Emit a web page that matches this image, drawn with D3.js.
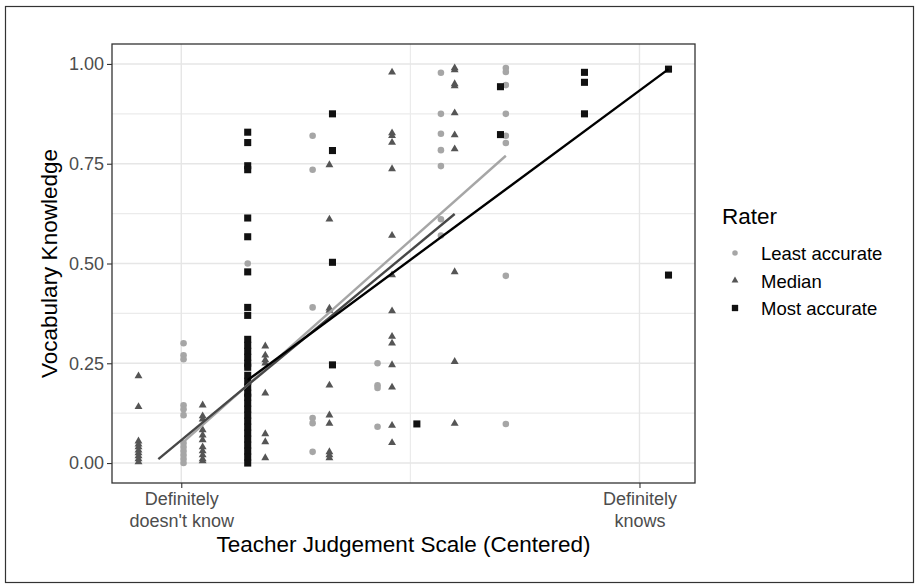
<!DOCTYPE html>
<html>
<head>
<meta charset="utf-8">
<script src="https://cdn.jsdelivr.net/npm/d3@7"></script>
<style>
  body { margin: 0; background: #fff; }
  text { font-family: "Liberation Sans", Arial, sans-serif; }
</style>
</head>
<body>
<div id="chart"></div>
<script>
// rater groups, drawn in this order
const raters = ["Least accurate", "Median", "Most accurate"];

// points: [teacher judgement (centered), vocabulary knowledge]
const leastPoints = [
  [-2.97, 0.30], [-2.97, 0.27], [-2.97, 0.26], [-2.97, 0.145], [-2.97, 0.135], [-2.97, 0.12],
  [-2.97, 0.05], [-2.97, 0.04], [-2.97, 0.03], [-2.97, 0.02], [-2.97, 0.01], [-2.97, 0.0],
  [-2.13, 0.50], [-2.13, 0.24],
  [-1.28, 0.82], [-1.28, 0.735], [-1.28, 0.39], [-1.28, 0.113], [-1.28, 0.10], [-1.28, 0.028],
  [-0.43, 0.25], [-0.43, 0.195], [-0.43, 0.188], [-0.43, 0.091],
  [0.40, 0.978], [0.40, 0.875], [0.40, 0.825], [0.40, 0.784], [0.40, 0.744], [0.40, 0.611], [0.40, 0.57],
  [1.25, 0.99], [1.25, 0.98], [1.25, 0.947], [1.25, 0.875], [1.25, 0.82], [1.25, 0.802], [1.25, 0.469], [1.25, 0.098]
];
const medianPoints = [
  [-3.56, 0.218], [-3.56, 0.141], [-3.56, 0.055], [-3.56, 0.047], [-3.56, 0.04], [-3.56, 0.032],
  [-3.56, 0.025], [-3.56, 0.018], [-3.56, 0.01], [-3.56, 0.003],
  [-2.72, 0.145], [-2.72, 0.118], [-2.72, 0.11], [-2.72, 0.083], [-2.72, 0.07], [-2.72, 0.058],
  [-2.72, 0.04], [-2.72, 0.03], [-2.72, 0.02], [-2.72, 0.01], [-2.72, 0.005],
  [-1.90, 0.293], [-1.90, 0.27], [-1.90, 0.258], [-1.90, 0.25], [-1.90, 0.175], [-1.90, 0.073],
  [-1.90, 0.053], [-1.90, 0.013],
  [-1.06, 0.747], [-1.06, 0.611], [-1.06, 0.388], [-1.06, 0.382], [-1.06, 0.195], [-1.06, 0.12],
  [-1.06, 0.099], [-1.06, 0.028], [-1.06, 0.02], [-1.06, 0.013],
  [-0.24, 0.979], [-0.24, 0.827], [-0.24, 0.82], [-0.24, 0.803], [-0.24, 0.737], [-0.24, 0.57],
  [-0.24, 0.471], [-0.24, 0.381], [-0.24, 0.317], [-0.24, 0.30], [-0.24, 0.246], [-0.24, 0.19],
  [-0.24, 0.094], [-0.24, 0.051],
  [0.58, 0.99], [0.58, 0.985], [0.58, 0.95], [0.58, 0.945], [0.58, 0.877], [0.58, 0.822],
  [0.58, 0.787], [0.58, 0.479], [0.58, 0.254], [0.58, 0.099]
];
const mostPoints = [
  [-2.13, 0.829], [-2.13, 0.803], [-2.13, 0.745], [-2.13, 0.735], [-2.13, 0.614], [-2.13, 0.567],
  [-2.13, 0.479], [-2.13, 0.39], [-2.13, 0.37], [-2.13, 0.31], [-2.13, 0.295], [-2.13, 0.28],
  [-2.13, 0.265], [-2.13, 0.25], [-2.13, 0.24], [-2.13, 0.22], [-2.13, 0.205], [-2.13, 0.19],
  [-2.13, 0.175], [-2.13, 0.165], [-2.13, 0.15], [-2.13, 0.135], [-2.13, 0.12], [-2.13, 0.105],
  [-2.13, 0.09], [-2.13, 0.075], [-2.13, 0.06], [-2.13, 0.045], [-2.13, 0.03], [-2.13, 0.015], [-2.13, 0.0],
  [-1.02, 0.875], [-1.02, 0.783], [-1.02, 0.503], [-1.02, 0.246],
  [0.085, 0.098],
  [1.18, 0.943], [1.18, 0.823],
  [2.28, 0.979], [2.28, 0.954], [2.28, 0.875],
  [3.38, 0.987], [3.38, 0.471]
];

// fitted lines per rater (start and end)
const leastLine = [[-2.97, 0.053], [1.25, 0.77]];
const medianLine = [[-3.30, 0.01], [0.58, 0.624]];
const mostLine = [[-2.13, 0.208], [3.38, 0.987]];

// axis ticks
const xTicks = [-3, 3];
const xTickLabels = [["Definitely", "doesn't know"], ["Definitely", "knows"]];
const xMinor = [0];
const yTicks = [0, 0.25, 0.5, 0.75, 1];
const yMinor = [0.125, 0.375, 0.625, 0.875];

const width = 919, height = 588;
const margin = {top: 44, right: 224, bottom: 105, left: 112};

const pointColor = d3.scaleOrdinal().domain(raters).range(["#a6a6a6", "#555555", "#111111"]);
const lineColor = d3.scaleOrdinal().domain(raters).range(["#a6a6a6", "#474747", "#000000"]);
const shape = d3.scaleOrdinal().domain(raters)
  .range([d3.symbol().type(d3.symbolCircle).size(34),
          d3.symbol().type(d3.symbolTriangle).size(27),
          d3.symbol().type(d3.symbolSquare).size(50)]);
const keyShape = d3.scaleOrdinal().domain(raters)
  .range([d3.symbol().type(d3.symbolCircle).size(24),
          d3.symbol().type(d3.symbolTriangle).size(20),
          d3.symbol().type(d3.symbolSquare).size(40)]);

const groups = [
  {rater: raters[0], points: leastPoints, line: leastLine},
  {rater: raters[1], points: medianPoints, line: medianLine},
  {rater: raters[2], points: mostPoints, line: mostLine}
];

// ggplot-like 5% expansion of the x range
const allX = groups.flatMap(g => g.points.map(p => p[0]));
const [xMin, xMax] = d3.extent(allX);
const xPad = (xMax - xMin) * 0.05;

const x = d3.scaleLinear()
  .domain([xMin - xPad, xMax + xPad])
  .range([margin.left, width - margin.right]);
const y = d3.scaleLinear()
  .domain([-0.05, 1.05])
  .range([height - margin.bottom, margin.top]);

const svg = d3.select("#chart").append("svg")
  .attr("width", width)
  .attr("height", height);

svg.append("rect")
  .attr("width", width).attr("height", height)
  .attr("fill", "#fff");

// outer frame of the figure
svg.append("rect")
  .attr("x", 5.5).attr("y", 6.5)
  .attr("width", 908).attr("height", 576)
  .attr("fill", "none")
  .attr("stroke", "#333")
  .attr("stroke-width", 1.2);

// grid
const grid = svg.append("g");
grid.selectAll(".ymin").data(yMinor).join("line")
  .attr("x1", margin.left).attr("x2", width - margin.right)
  .attr("y1", d => y(d)).attr("y2", d => y(d))
  .attr("stroke", "#ebebeb").attr("stroke-width", 1.2);
grid.selectAll(".xmin").data(xMinor).join("line")
  .attr("y1", margin.top).attr("y2", height - margin.bottom)
  .attr("x1", d => x(d)).attr("x2", d => x(d))
  .attr("stroke", "#ebebeb").attr("stroke-width", 1.2);
grid.selectAll(".ymaj").data(yTicks).join("line")
  .attr("x1", margin.left).attr("x2", width - margin.right)
  .attr("y1", d => y(d)).attr("y2", d => y(d))
  .attr("stroke", "#e6e6e6").attr("stroke-width", 1.4);
grid.selectAll(".xmaj").data(xTicks).join("line")
  .attr("y1", margin.top).attr("y2", height - margin.bottom)
  .attr("x1", d => x(d)).attr("x2", d => x(d))
  .attr("stroke", "#e6e6e6").attr("stroke-width", 1.4);

// points
groups.forEach(g => {
  svg.append("g").selectAll("path")
    .data(g.points)
    .join("path")
    .attr("transform", d => `translate(${x(d[0])},${y(d[1])})`)
    .attr("d", shape(g.rater)())
    .attr("fill", pointColor(g.rater));
});

// fitted lines
const line = d3.line().x(d => x(d[0])).y(d => y(d[1]));
groups.forEach(g => {
  svg.append("path")
    .datum(g.line)
    .attr("d", line)
    .attr("fill", "none")
    .attr("stroke", lineColor(g.rater))
    .attr("stroke-width", 2.4);
});

// panel border
svg.append("rect")
  .attr("x", margin.left).attr("y", margin.top)
  .attr("width", width - margin.left - margin.right)
  .attr("height", height - margin.top - margin.bottom)
  .attr("fill", "none")
  .attr("stroke", "#333")
  .attr("stroke-width", 1.3);

// y axis
const yAxis = svg.append("g")
  .attr("transform", `translate(${margin.left},0)`)
  .call(d3.axisLeft(y).tickValues(yTicks).tickFormat(d3.format(".2f")).tickSize(5).tickPadding(3));
yAxis.select(".domain").remove();
yAxis.selectAll(".tick line").attr("stroke", "#333").attr("stroke-width", 1.1);
yAxis.selectAll(".tick text")
  .attr("fill", "#4d4d4d")
  .style("font-size", "18px")
  .style("font-family", "'Liberation Sans', Arial, sans-serif");

// x axis
const xAxis = svg.append("g")
  .attr("transform", `translate(0,${height - margin.bottom})`)
  .call(d3.axisBottom(x).tickValues(xTicks).tickFormat("").tickSize(5));
xAxis.select(".domain").remove();
xAxis.selectAll(".tick line").attr("stroke", "#333").attr("stroke-width", 1.1);
xAxis.selectAll(".tick").each(function(d, i) {
  const t = d3.select(this).append("text")
    .attr("fill", "#4d4d4d")
    .attr("text-anchor", "middle")
    .style("font-size", "18px");
  xTickLabels[i].forEach((s, j) => {
    t.append("tspan").attr("x", 0).attr("y", 22 + j * 21.5).text(s);
  });
});

// axis titles
svg.append("text")
  .attr("x", (margin.left + width - margin.right) / 2)
  .attr("y", 552)
  .attr("text-anchor", "middle")
  .style("font-size", "22.5px")
  .attr("fill", "#000")
  .text("Teacher Judgement Scale (Centered)");

svg.append("text")
  .attr("transform", `translate(57,${(margin.top + height - margin.bottom) / 2}) rotate(-90)`)
  .attr("text-anchor", "middle")
  .style("font-size", "22.5px")
  .attr("fill", "#000")
  .text("Vocabulary Knowledge");

// legend
const legend = svg.append("g").attr("transform", "translate(722,0)");
legend.append("text")
  .attr("x", 0).attr("y", 224)
  .style("font-size", "22.5px")
  .attr("fill", "#000")
  .text("Rater");

const items = legend.selectAll(".item")
  .data(raters)
  .join("g")
  .attr("transform", (d, i) => `translate(0,${253 + i * 27.5})`);
items.append("path")
  .attr("transform", "translate(13,0)")
  .attr("d", d => keyShape(d)())
  .attr("fill", d => pointColor(d));
items.append("text")
  .attr("x", 39).attr("y", 7)
  .style("font-size", "18.5px")
  .attr("fill", "#000")
  .text(d => d);
</script>
</body>
</html>
